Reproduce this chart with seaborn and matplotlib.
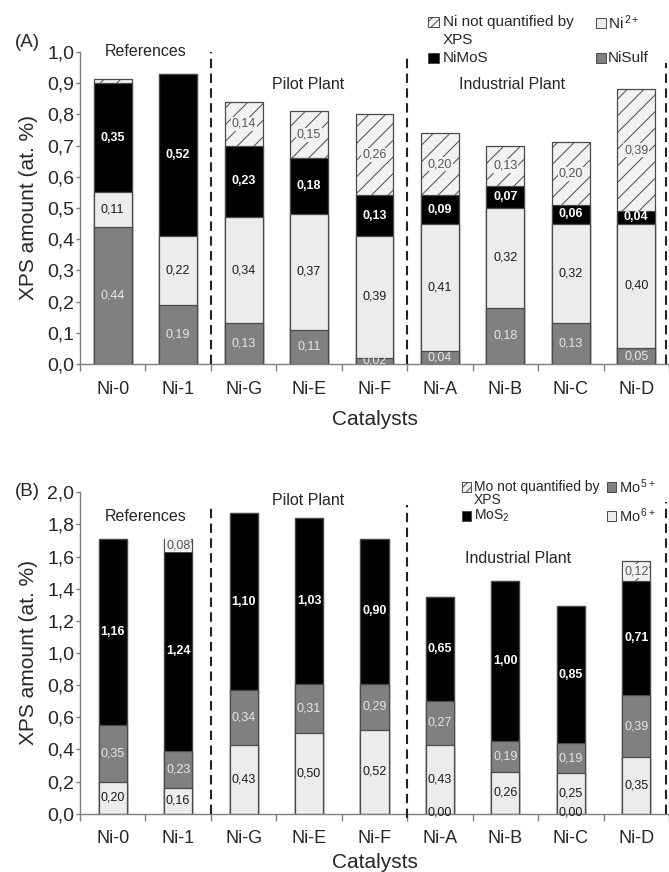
import numpy as np
import pandas as pd
import matplotlib
matplotlib.use("Agg")
import matplotlib.pyplot as plt
from matplotlib.patches import Rectangle
import seaborn as sns

# ---------------- data ----------------
catalysts = ["Ni-0", "Ni-1", "Ni-G", "Ni-E", "Ni-F", "Ni-A", "Ni-B", "Ni-C", "Ni-D"]

# Panel A (Ni species), bottom -> top
ni_sulf = [0.44, 0.19, 0.13, 0.11, 0.02, 0.04, 0.18, 0.13, 0.05]
ni_2plus = [0.11, 0.22, 0.34, 0.37, 0.39, 0.41, 0.32, 0.32, 0.40]
ni_mos = [0.35, 0.52, 0.23, 0.18, 0.13, 0.09, 0.07, 0.06, 0.04]
ni_nq = [0.012, 0.00, 0.14, 0.15, 0.26, 0.20, 0.13, 0.20, 0.39]

# Panel B (Mo species), bottom -> top
mo_zero = [None, None, None, None, None, 0.00, None, 0.00, None]
mo_6plus = [0.20, 0.16, 0.43, 0.50, 0.52, 0.43, 0.26, 0.25, 0.35]
mo_5plus = [0.35, 0.23, 0.34, 0.31, 0.29, 0.27, 0.19, 0.19, 0.39]
mo_s2 = [1.16, 1.24, 1.10, 1.03, 0.90, 0.65, 1.00, 0.85, 0.71]
mo_nq = [0.00, 0.08, 0.00, 0.00, 0.00, 0.00, 0.00, 0.00, 0.12]

# ---------------- style ----------------
sns.set_style("white")
plt.rcParams["font.family"] = ["Liberation Sans", "DejaVu Sans"]
plt.rcParams["hatch.linewidth"] = 0.7
plt.rcParams["mathtext.fontset"] = "custom"
plt.rcParams["mathtext.rm"] = "Liberation Sans"
plt.rcParams["mathtext.it"] = "Liberation Sans"

C_BLACK = "#000000"
C_GREY = "#808080"
C_LIGHT = "#ececec"
C_NQ = "#f2f2f2"
EDGE = "#4a4a4a"
SPINE = "#7f7f7f"

fig = plt.figure(figsize=(6.69, 8.72), dpi=100)
axA = fig.add_axes([0.1196, 0.5826, 0.8804, 0.3578])
axB = fig.add_axes([0.1196, 0.0669, 0.8804, 0.3685])


def fmt(v):
    return f"{v:.2f}".replace(".", ",")


def stacked(ax, series, width):
    """series: list of (values, facecolor, hatch, textcolor, weight, bbox)"""
    arrs = [np.array(s[0], dtype=float) for s in series]
    cums = np.cumsum(arrs, axis=0)
    # draw from top to bottom so lower segments cover upper bars
    for k in range(len(series) - 1, -1, -1):
        vals, fc, hatch, tc, wt, bb = series[k]
        df = pd.DataFrame({"cat": catalysts, "val": cums[k]})
        sns.barplot(data=df, x="cat", y="val", order=catalysts, color=fc,
                    saturation=1, width=width, edgecolor=EDGE, linewidth=0.9,
                    hatch=hatch, errorbar=None, ax=ax)
    # labels
    for k, (vals, fc, hatch, tc, wt, bb) in enumerate(series):
        bottoms = cums[k] - arrs[k]
        for i, v in enumerate(arrs[k]):
            if v >= 0.015:
                kw = {}
                if bb:
                    kw["bbox"] = dict(facecolor=C_NQ, edgecolor="none", pad=0.6)
                ax.text(i, bottoms[i] + v / 2, fmt(v), ha="center", va="center",
                        fontsize=9, color=tc, fontweight=wt, **kw)


def style_axes(ax, ymax, step, labelpad):
    for s in ["top", "right"]:
        ax.spines[s].set_visible(False)
    for s in ["left", "bottom"]:
        ax.spines[s].set_color(SPINE)
        ax.spines[s].set_linewidth(1.0)
    ax.set_xlim(-0.5, 8.5)
    ax.set_ylim(0, ymax)
    yt = np.round(np.arange(0, ymax + step / 2, step), 2)
    ax.set_yticks(yt)
    ax.set_yticklabels([f"{t:.1f}".replace(".", ",") for t in yt], fontsize=14)
    ax.set_xticks(range(len(catalysts)))
    ax.set_xticklabels(catalysts, fontsize=13)
    ax.set_xticks(np.arange(-0.5, 9.0, 1.0), minor=True)
    ax.tick_params(axis="y", which="major", length=3, width=1, color=SPINE,
                   direction="out", pad=1, left=True)
    ax.tick_params(axis="x", which="major", length=0, pad=12, bottom=True)
    ax.tick_params(axis="x", which="minor", length=5, width=1, color=SPINE,
                   direction="out", bottom=True)
    ax.set_xlabel("Catalysts", fontsize=15, labelpad=labelpad)
    ax.set_ylabel("XPS amount (at. %)", fontsize=15, labelpad=7)
    ax.grid(False)


def dashed(ax, x, y0, y1):
    ax.plot([x, x], [y0, y1], color="#222222", lw=1.5, ls=(0, (4.5, 2.6)),
            clip_on=False, zorder=5)


def legend_item(ax, x, y, w, h, fc, hatch, label, tx, fs):
    ax.add_patch(Rectangle((x, y - h / 2), w, h, facecolor=fc, edgecolor=EDGE,
                           hatch=hatch, linewidth=0.7, clip_on=False))
    ax.text(tx, y, label, fontsize=fs, va="center", ha="left", clip_on=False)


# ---------------- Panel A ----------------
stacked(axA, [
    (ni_sulf, C_GREY, None, "#e6e6e6", "normal", False),
    (ni_2plus, C_LIGHT, None, "#1a1a1a", "normal", False),
    (ni_mos, C_BLACK, None, "white", "bold", False),
    (ni_nq, C_NQ, "//", "#555555", "normal", True),
], width=0.58)
style_axes(axA, 1.0, 0.1, labelpad=9)
dashed(axA, 1.5, 0, 1.0)
dashed(axA, 4.5, 0, 0.99)
dashed(axA, 8.45, 0, 0.965)
axA.text(0.5, 1.0, "References", fontsize=11.5, ha="center", va="center")
axA.text(2.98, 0.897, "Pilot Plant", fontsize=11.5, ha="center", va="center")
axA.text(6.1, 0.897, "Industrial Plant", fontsize=11.5, ha="center", va="center")
fig.text(0.022, 0.951, "(A)", fontsize=13.5, ha="left", va="center")

wA, hA = 0.16, 0.032
legend_item(axA, 4.82, 1.096, wA, hA, C_NQ, "////", "Ni not quantified by", 5.04, 11)
axA.text(5.04, 1.038, "XPS", fontsize=11, va="center", ha="left")
legend_item(axA, 4.82, 0.981, wA, hA, C_BLACK, None, "NiMoS", 5.04, 11)
legend_item(axA, 7.38, 1.093, wA, hA, C_LIGHT, None, r"Ni$^{\,2+}$", 7.57, 11)
legend_item(axA, 7.38, 0.981, wA, hA, C_GREY, None, "NiSulf", 7.57, 11)

# ---------------- Panel B ----------------
stacked(axB, [
    (mo_6plus, C_LIGHT, None, "#1a1a1a", "normal", False),
    (mo_5plus, C_GREY, None, "#e6e6e6", "normal", False),
    (mo_s2, C_BLACK, None, "white", "bold", False),
    (mo_nq, C_NQ, "//", "#555555", "normal", True),
], width=0.43)
for i, v in enumerate(mo_zero):
    if v is not None:
        axB.text(i, v + 0.01, fmt(v), ha="center", va="center", fontsize=9,
                 color="#1a1a1a")
style_axes(axB, 2.0, 0.2, labelpad=4)
dashed(axB, 1.5, 0, 1.93)
dashed(axB, 4.5, -0.03, 1.92)
dashed(axB, 8.45, 0, 1.94)
axB.text(0.5, 1.85, "References", fontsize=11.5, ha="center", va="center")
axB.text(2.98, 1.95, "Pilot Plant", fontsize=11.5, ha="center", va="center")
axB.text(6.2, 1.59, "Industrial Plant", fontsize=11.5, ha="center", va="center")
fig.text(0.022, 0.436, "(B)", fontsize=13.5, ha="left", va="center")

wB, hB = 0.14, 0.058
legend_item(axB, 5.33, 2.033, wB, hB, C_NQ, "////", "Mo not quantified by", 5.52, 10)
axB.text(5.52, 1.952, "XPS", fontsize=10, va="center", ha="left")
legend_item(axB, 5.33, 1.853, wB, hB, C_BLACK, None, r"MoS$_2$", 5.52, 10)
legend_item(axB, 7.55, 2.033, wB, hB, C_GREY, None, r"Mo$^{\,5+}$", 7.73, 10.5)
legend_item(axB, 7.55, 1.853, wB, hB, C_LIGHT, None, r"Mo$^{\,6+}$", 7.73, 10.5)

fig.savefig("out.png", dpi=100)
